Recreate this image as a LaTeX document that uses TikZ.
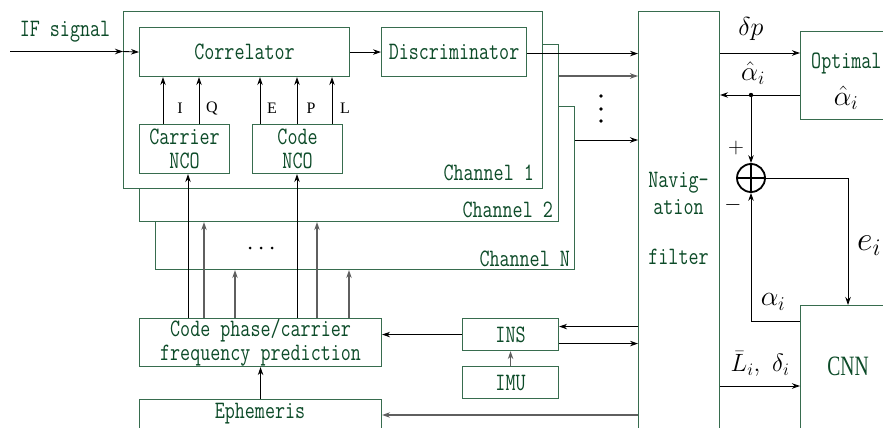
\RequirePackage{fix-cm}
\documentclass[tikz,border=0pt]{standalone}
\usepackage{fontspec}
\usetikzlibrary{arrows.meta,calc}
\newfontfamily\dfont{Latin Modern Mono}[FakeStretch=0.78]
\newfontfamily\sfnt{Liberation Serif}
\newfontfamily\cnnfont{Liberation Serif}[FakeStretch=0.7]
\definecolor{tg}{RGB}{12,75,40}
\definecolor{bg}{RGB}{55,108,78}
\definecolor{ag}{RGB}{95,95,95}
\begin{document}
\begin{tikzpicture}[x=1pt,y=-1pt,
 box/.style={draw=bg,line width=1.1pt,fill=white,inner sep=0,anchor=north west,
   text=tg,font=\dfont\fontsize{25}{25}\selectfont,align=center},
 lbl/.style={text=tg,font=\dfont\fontsize{25}{25}\selectfont,inner sep=0},
 arr/.style={-{Stealth[length=8pt,width=5.5pt]},line width=0.9pt,black},
 garr/.style={arr,draw=ag,line width=1.1pt},
 small/.style={font=\sfnt\fontsize{16}{18}\selectfont,inner sep=0},
 mth/.style={inner sep=0}]
\useasboundingbox (0,0) rectangle (883,428);
\clip (0,0) rectangle (883,428);
% channel boxes
\node[box,minimum width=419pt,minimum height=163pt] (chN) at (155,106) {};
\node[box,minimum width=419pt,minimum height=177pt] (ch2) at (139,44) {};
\node[box,minimum width=419pt,minimum height=177pt] (ch1) at (123,11) {};
\node[box,minimum width=210pt,minimum height=49pt] (corr) at (139,27) {Correlator};
\node[box,minimum width=145pt,minimum height=49pt] (disc) at (381,27) {Discriminator};
\node[box,minimum width=90pt,minimum height=49pt] (carr) at (139,124) {Carrier\\[-1pt]NCO};
\node[box,minimum width=90pt,minimum height=49pt] (code) at (252,124) {Code\\[-1pt]NCO};
\node[box,minimum width=242pt,minimum height=48pt] (pred) at (139,318) {Code phase/carrier\\[-1pt]frequency prediction};
\node[box,minimum width=96pt,minimum height=32pt] (ins) at (462,318) {INS};
\node[box,minimum width=96pt,minimum height=32pt] (imu) at (462,366) {IMU};
\node[box,minimum width=242pt,minimum height=40pt] (eph) at (139,399) {};
\node[lbl] at (260,414) {Ephemeris};
\node[box,minimum width=81pt,minimum height=430pt] (nav) at (638,11) {};
\node[box,minimum width=100pt,minimum height=88pt] (opt) at (800,31) {};
\node[box,minimum width=100pt,minimum height=140pt] (cnn) at (800,305) {};
\node[circle,draw,line width=1.8pt,minimum size=28pt,inner sep=0] (sum) at (751,178) {};
\draw[line width=1.8pt] (sum.north) -- (sum.south) (sum.west) -- (sum.east);
% labels
\node[lbl] at (65,32) {IF signal};
\node[lbl,anchor=east] at ($(ch1.south east)+(-9,-16)$) {Channel 1};
\node[lbl,anchor=east] at ($(ch2.south east)+(-6,-12)$) {Channel 2};
\node[lbl,anchor=east] at ($(chN.south east)+(-5,-11)$) {Channel N};
\node[lbl] at (678.5,183) {Navig-};
\node[lbl] at (678.5,207) {ation};
\node[lbl] at (678.5,257) {filter};
\node[lbl,anchor=west] at (811,63) {Optimal};
\node[mth] at (846,98) {\fontsize{28}{30}\selectfont$\hat{\alpha}_i$};
\node[text=tg,inner sep=0,font=\cnnfont\fontsize{28}{30}\selectfont] at (848,366) {CNN};
\node[small] at (180,108) {I};
\node[small] at (212,108) {Q};
\node[small] at (272,108) {E};
\node[small] at (311,108) {P};
\node[small] at (345,108) {L};
\node[mth] at (751,29) {\fontsize{26}{28}\selectfont$\delta p$};
\node[mth] at (753,73) {\fontsize{27}{29}\selectfont$\hat{\alpha}_i$};
\node[mth] at (869,246) {\fontsize{34}{36}\selectfont$e_i$};
\node[mth] at (773,302) {\fontsize{28}{30}\selectfont$\alpha_i$};
\node[mth] at (760,364) {\fontsize{25}{27}\selectfont$\bar{L}_i,\ \delta_i$};
\node[inner sep=0,font=\fontsize{22}{24}\selectfont] at (736,148) {$+$};
\node[inner sep=0,font=\fontsize{22}{24}\selectfont] at (733,205) {$-$};
\foreach \yy in {96,109,121} \fill (601,\yy) circle (1.8);
\foreach \xx in {250,261,272} \fill (\xx,248) circle (1.5);
% IF signal
\coordinate (ifs) at (10,51.5);
\draw[arr] (ifs) -- (ifs -| ch1.west);
\draw[arr] (ifs -| ch1.west) -- (corr.west);
\draw[arr] (corr.east) -- (disc.west);
% correlator inputs
\foreach \dx in {24,60} {
  \coordinate (t) at ($(carr.north west)+(\dx,0)$);
  \draw[arr] (t) -- (t |- corr.south);
}
\foreach \dx in {8,45,80} {
  \coordinate (t) at ($(code.north west)+(\dx,0)$);
  \draw[arr] (t) -- (t |- corr.south);
}
% prediction outputs
\coordinate (p1) at ($(pred.north west)+(49,0)$);
\coordinate (p2) at ($(pred.north west)+(65,0)$);
\coordinate (p3) at ($(pred.north west)+(96,0)$);
\coordinate (p4) at ($(pred.north west)+(158,0)$);
\coordinate (p5) at ($(pred.north west)+(178,0)$);
\coordinate (p6) at ($(pred.north west)+(210,0)$);
\draw[arr] (p1) -- (p1 |- carr.south);
\draw[garr] (p2) -- (p2 |- ch2.south);
\draw[garr] (p3) -- (p3 |- chN.south);
\draw[arr] (p4) -- (p4 |- code.south);
\draw[garr] (p5) -- (p5 |- ch2.south);
\draw[garr] (p6) -- (p6 |- chN.south);
% channels to navigation filter
\coordinate (n1) at ($(disc.east)+(0,1.5)$);
\coordinate (n2) at ($(ch2.north east)+(0,32)$);
\coordinate (n3) at ($(chN.north east)+(0,34)$);
\draw[arr] (n1) -- (n1 -| nav.west);
\draw[garr] (n2) -- (n2 -| nav.west);
\draw[arr] (n3) -- (n3 -| nav.west);
% INS / IMU / ephemeris
\draw[arr] (ins.west) -- (ins.west -| pred.east);
\draw[garr] (imu.north) -- (ins.south);
\coordinate (a1) at ($(ins.east)+(0,-8)$);
\coordinate (a2) at ($(ins.east)+(0,9)$);
\draw[arr] (a1 -| nav.west) -- (a1);
\draw[arr] (a2) -- (a2 -| nav.west);
\coordinate (e1) at ($(eph.north east)+(0,16)$);
\draw[garr] (e1 -| nav.west) -- (e1);
\draw[arr] (eph.north) -- (pred.south);
% right part
\coordinate (d1) at ($(opt.north west)+(0,22)$);
\coordinate (d2) at ($(opt.north west)+(0,64)$);
\draw[arr] (d1 -| nav.east) -- (d1);
\draw[arr] (d2) -- (d2 -| nav.east);
\fill (d2 -| sum) circle (2.2);
\draw[arr] (d2 -| sum) -- (sum.north);
\coordinate (c1) at ($(cnn.north west)+(48,0)$);
\coordinate (c2) at ($(cnn.north west)+(0,16)$);
\coordinate (c3) at ($(cnn.north west)+(0,81)$);
\draw[arr,line width=0.8pt] (sum.east) -| (c1);
\draw[arr] (c2) -| (sum.south);
\draw[arr] (c3 -| nav.east) -- (c3);
\end{tikzpicture}
\end{document}
